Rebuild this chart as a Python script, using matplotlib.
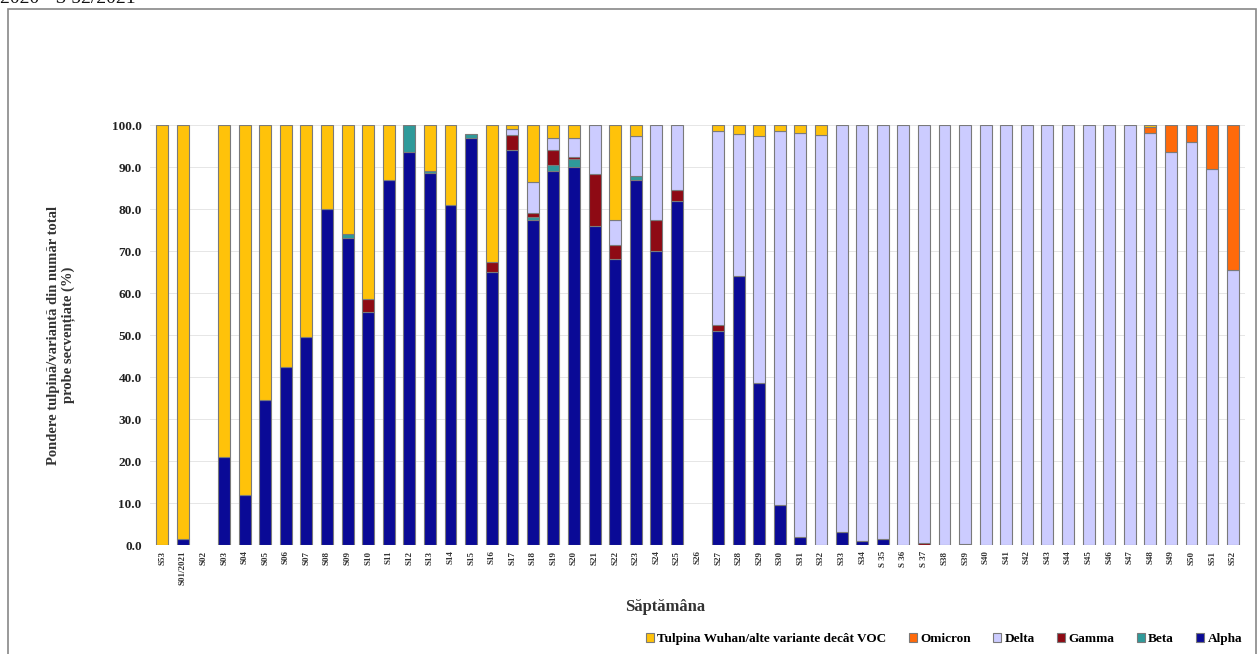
import matplotlib
matplotlib.use("Agg")
import matplotlib.pyplot as plt
from matplotlib.patches import Patch, Rectangle
import numpy as np

weeks = ["S53", "S01/2021", "S02", "S03", "S04", "S05", "S06", "S07", "S08", "S09",
         "S10", "S11", "S12", "S13", "S14", "S15", "S16", "S17", "S18", "S19",
         "S20", "S21", "S22", "S23", "S24", "S25", "S26", "S27", "S28", "S29",
         "S30", "S31", "S32", "S33", "S34", "S 35", "S 36", "S 37", "S38", "S39",
         "S40", "S41", "S42", "S43", "S44", "S45", "S46", "S47", "S48", "S49",
         "S50", "S51", "S52"]

alpha = [0, 1.5, 0, 21, 12, 34.5, 42.5, 49.5, 80, 73,
         55.5, 87, 93.5, 88.5, 81, 96.8, 65, 94, 77.4, 89,
         90, 76, 68, 87, 70, 82, 0, 51, 64, 38.5,
         9.5, 2, 0, 3, 1, 1.5, 0, 0, 0, 0.3,
         0, 0, 0, 0, 0, 0, 0, 0, 0, 0,
         0, 0, 0]
beta = [0, 0, 0, 0, 0, 0, 0, 0, 0, 1,
        0, 0, 6.5, 0.5, 0, 1, 0, 0, 0.8, 1.5,
        2, 0, 0, 0.8, 0, 0, 0, 0, 0, 0,
        0, 0, 0, 0, 0, 0, 0, 0, 0, 0,
        0, 0, 0, 0, 0, 0, 0, 0, 0, 0,
        0, 0, 0]
gamma = [0, 0, 0, 0, 0, 0, 0, 0, 0, 0,
         3, 0, 0, 0, 0, 0, 2.5, 3.6, 0.8, 3.5,
         0.3, 12.3, 3.5, 0, 7.5, 2.5, 0, 1.5, 0, 0,
         0, 0, 0, 0, 0, 0, 0, 0.4, 0, 0,
         0, 0, 0, 0, 0, 0, 0, 0, 0, 0,
         0, 0, 0]
delta = [0, 0, 0, 0, 0, 0, 0, 0, 0, 0,
         0, 0, 0, 0, 0, 0, 0, 1.5, 7.5, 3,
         4.7, 11.7, 6, 9.5, 22.5, 15.5, 0, 46, 33.8, 59,
         89, 96, 97.7, 97, 99, 98.5, 100, 99.6, 100, 99.7,
         100, 100, 100, 100, 100, 100, 100, 100, 98, 93.5,
         96, 89.5, 65.5]
omicron = [0, 0, 0, 0, 0, 0, 0, 0, 0, 0,
           0, 0, 0, 0, 0, 0, 0, 0, 0, 0,
           0, 0, 0, 0, 0, 0, 0, 0, 0, 0,
           0, 0, 0, 0, 0, 0, 0, 0, 0, 0,
           0, 0, 0, 0, 0, 0, 0, 0, 1.5, 6.5,
           4, 10.5, 34.5]
other = [100, 98.5, 0, 79, 88, 65.5, 57.5, 50.5, 20, 26,
         41.5, 13, 0, 11, 19, 0, 32.5, 0.9, 13.5, 3,
         3, 0, 22.5, 2.7, 0, 0, 0, 1.5, 2.2, 2.5,
         1.5, 2, 2.3, 0, 0, 0, 0, 0, 0, 0,
         0, 0, 0, 0, 0, 0, 0, 0, 0.5, 0,
         0, 0, 0]

series = [("Alpha", alpha, "#0a0a96"),
          ("Beta", beta, "#2f9a9a"),
          ("Gamma", gamma, "#8e0a14"),
          ("Delta", delta, "#ccccff"),
          ("Omicron", omicron, "#ff6a0a"),
          ("Tulpina Wuhan/alte variante decât VOC", other, "#ffc20a")]

serif = ["Liberation Serif", "DejaVu Serif"]

fig = plt.figure(figsize=(12.59, 6.54), dpi=100)
ax = fig.add_axes([150/1259, (654-545)/654, 1095/1259, 420/654])

x = np.arange(len(weeks))
bottom = np.zeros(len(weeks))
for name, vals, col in series:
    v = np.array(vals, dtype=float)
    lw = np.where(v > 0, 0.8, 0.0)
    ax.bar(x, v, width=0.58, bottom=bottom, color=col,
           edgecolor="#7a7a7a", linewidth=lw, zorder=3)
    bottom += v

ax.set_xlim(-0.6, len(weeks) - 0.4)
ax.set_ylim(0, 100)
ax.set_yticks(np.arange(0, 101, 10))
ax.set_yticklabels([f"{t:.1f}" for t in np.arange(0, 101, 10)],
                   fontfamily=serif, fontweight="bold", fontsize=9.5, color="#222222")
ax.set_xticks(x)
ax.set_xticklabels(weeks, rotation=90, fontfamily=serif, fontweight="bold",
                   fontsize=6.5, color="#333333")
ax.tick_params(axis="both", length=0, pad=6)
ax.tick_params(axis="x", pad=4)
ax.grid(axis="y", color="#e6e6e6", linewidth=0.7, zorder=0)
for s in ax.spines.values():
    s.set_visible(False)

ax.set_ylabel("Pondere tulpină/variantă din număr total\nprobe secvențiate (%)",
              fontfamily=serif, fontweight="bold", fontsize=10.5, color="#333333",
              labelpad=26)
ax.set_xlabel("Săptămâna", fontfamily=serif, fontweight="bold", fontsize=12,
              color="#333333")
ax.xaxis.set_label_coords((665 - 150) / 1095, -(599 - 545) / 420)

handles = [Patch(facecolor=col, edgecolor="#7a7a7a", linewidth=0.8, label=name)
           for name, vals, col in reversed(series)]
fig.legend(handles=handles, loc="lower right", bbox_to_anchor=(1254/1259, -3/654),
           ncol=6, frameon=False, prop={"family": serif, "weight": "bold", "size": 9.5},
           handlelength=0.6, handleheight=0.6, handletextpad=0.25, columnspacing=1.7)

fig.patches.append(Rectangle((8/1259, -0.01), 1248/1259, (654-9)/654 + 0.01,
                             transform=fig.transFigure, fill=False,
                             edgecolor="#888888", linewidth=1.2))
fig.text(0.0, 1.0 + 2/654, "2020 - S 52/2021", fontfamily=serif, fontsize=14,
         ha="left", va="center", color="#111111")

fig.savefig("out.png", dpi=100)
